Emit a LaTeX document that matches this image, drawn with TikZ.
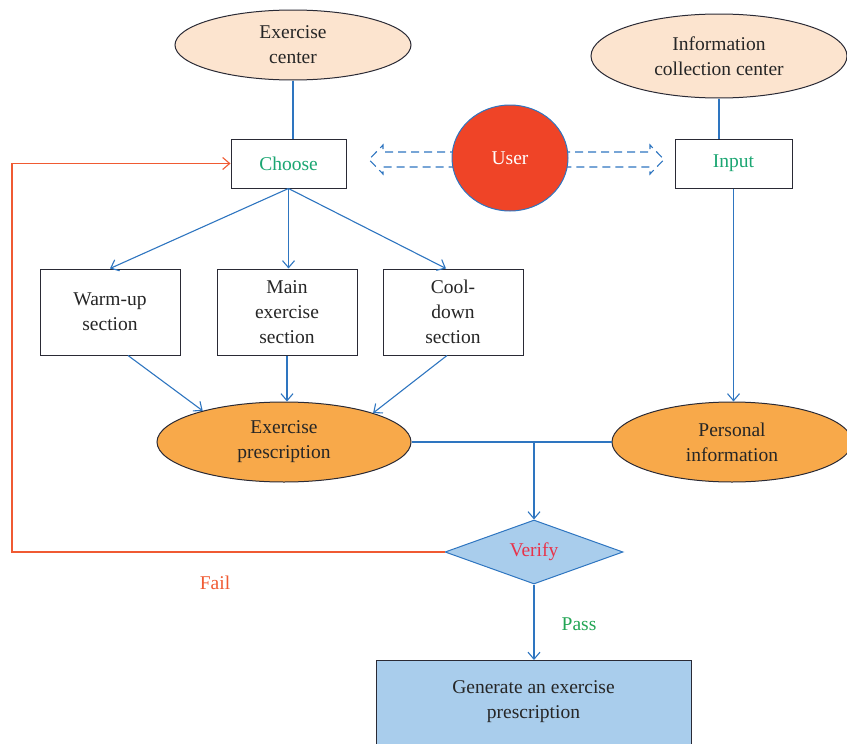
\documentclass[tikz,border=0pt]{standalone}
\usepackage{fontspec}
\setmainfont{Liberation Serif}
\usetikzlibrary{arrows.meta,shapes.geometric}
\definecolor{lineblue}{HTML}{2E75C0}
\definecolor{peach}{HTML}{FCE4CF}
\definecolor{orangefill}{HTML}{F8A94A}
\definecolor{lightblue}{HTML}{A9CDEC}
\definecolor{userred}{HTML}{EF4427}
\definecolor{txtgreen}{HTML}{1BA672}
\definecolor{passgreen}{HTML}{22A554}
\definecolor{verifyred}{HTML}{E8334A}
\definecolor{failred}{HTML}{F05A32}
\definecolor{darkline}{HTML}{2A2A35}
\begin{document}
\begin{tikzpicture}[x=1pt,y=-1pt,
  every node/.style={font=\fontsize{19.5}{25}\selectfont, text=black!85, align=center, inner sep=0pt},
  ellnode/.style={ellipse, draw=darkline, line width=1pt},
  rectnode/.style={draw=darkline, line width=1pt},
  conn/.style={draw=lineblue, line width=1.1pt},
  arr/.style={conn, -{Straight Barb[length=7pt,width=12pt]}},
  dashblock/.style={draw=lineblue, line width=1.1pt, dash pattern=on 8pt off 5pt}
]
\useasboundingbox (0,0) rectangle (847,744);

% ellipses at top
\node[ellnode, fill=peach, minimum width=236pt, minimum height=70pt] (exc) at (293,45) {Exercise\\center};
\node[ellnode, fill=peach, minimum width=256pt, minimum height=84pt] (info) at (719,56) {Information\\collection center};

% boxes
\node[rectnode, fill=white, minimum width=115pt, minimum height=49pt, text=txtgreen] (choose) at (288.5,163.5) {Choose};
\node[rectnode, fill=white, minimum width=117pt, minimum height=49pt, text=txtgreen] (input) at (733.5,163.5) {Input};

% dashed block arrows
\draw[dashblock] (458,152) -- (383,152) -- (383,145) -- (369,159.5) -- (383,174) -- (383,167) -- (458,167);
\draw[dashblock] (562,152) -- (650,152) -- (650,145) -- (664,159.5) -- (650,174) -- (650,167) -- (562,167);

% user circle
\node[ellipse, draw=lineblue, line width=1pt, fill=userred, minimum width=116pt, minimum height=106pt, text=white] (user) at (510,158) {User};

% section boxes
\node[rectnode, fill=white, minimum width=140pt, minimum height=86pt] (warm) at (110,312) {Warm-up\\section};
\node[rectnode, fill=white, minimum width=140pt, minimum height=86pt] (main) at (287,312) {Main\\exercise\\section};
\node[rectnode, fill=white, minimum width=140pt, minimum height=86pt] (cool) at (453,312) {Cool-\\down\\section};

% lower ellipses
\node[ellnode, fill=orangefill, minimum width=254pt, minimum height=80pt] (presc) at (284,442) {Exercise\\prescription};
\node[ellnode, fill=orangefill, minimum width=240pt, minimum height=80pt] (pers) at (732,442) {Personal\\information};

% verify diamond
\node[diamond, draw=lineblue, line width=1pt, fill=lightblue, minimum width=178pt, minimum height=64pt, aspect=2.8, text=verifyred] (verify) at (534,552) {Verify};

% generate box
\node[rectnode, fill=lightblue, minimum width=315pt, minimum height=100pt, anchor=north] (gen) at (533.5,660) {};
\node (gentext) at (533.5,702) {Generate an exercise\\prescription};

% connectors
\draw[conn] (exc.south) -- (exc.south |- choose.north);
\draw[conn] (input.north -| info.south) -- (info.south);
\coordinate (chb) at (choose.south);
\draw[arr] (chb) -- (warm.north);
\draw[arr] (chb) -- (chb |- main.north);
\draw[arr] (chb) -- ([xshift=-7pt]cool.north);
\draw[arr] ([xshift=18pt]warm.south) -- (presc.159);
\draw[arr] (main.south) -- (main.south |- presc.north);
\draw[arr] ([xshift=-6pt]cool.south) -- (presc.18);
\draw[arr] (input.south) -- (input.south |- pers.north);
\coordinate (junc) at (verify.north |- presc.east);
\draw[conn] (presc.east) -- (pers.west);
\draw[arr] (junc) -- (verify.north);
\draw[arr] (verify.south) -- (verify.south |- gen.north);
\coordinate (failc) at (12,552);
\coordinate (failt) at (12,163.5);
\draw[draw=failred, line width=1.1pt, -{Straight Barb[length=7pt,width=12pt]}] (verify.west) -- (failc) -- (failt) -- (choose.west);

% labels
\node[text=failred] (fail) at (215,583) {Fail};
\node[text=passgreen] (pass) at (579,624) {Pass};
\end{tikzpicture}
\end{document}
